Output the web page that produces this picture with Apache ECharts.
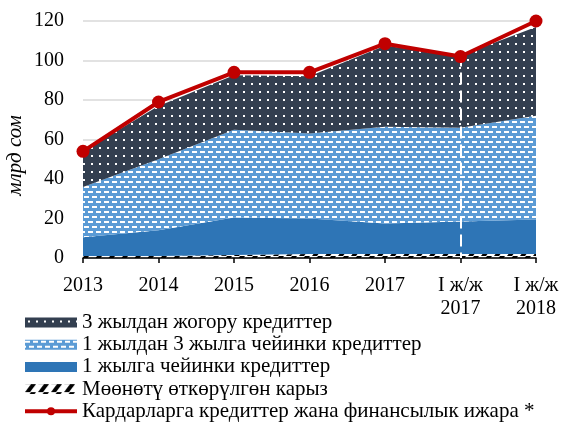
<!DOCTYPE html>
<html>
<head>
<meta charset="utf-8">
<script src="https://cdn.jsdelivr.net/npm/echarts@6/dist/echarts.min.js"></script>
<style>
html, body { margin: 0; padding: 0; background: #fff; }
#chart { width: 561px; height: 424px; }
</style>
</head>
<body>
<div id="chart"></div>
<script>
// категориялар
const categories = ['2013', '2014', '2015', '2016', '2017', 'I ж/ж\n2017', 'I ж/ж\n2018'];
// маалыматтар (млрд сом)
const overdue = [1, 1, 1.5, 2, 2, 2, 2];
const upTo1Year = [9.5, 13, 19, 18, 15.5, 16.5, 17.5];
const from1to3Years = [25.5, 36, 44.5, 43, 49, 47.5, 52.5];
const over3Years = [18, 27, 27.5, 29, 41, 36.5, 45];
const totalLoans = [54, 79, 94, 94, 108.5, 102, 120];
const yTicks = [0, 20, 40, 60, 80, 100, 120];

const names = [
	'3 жылдан жогору кредиттер',
	'1 жылдан 3 жылга чейинки кредиттер',
	'1 жылга чейинки кредиттер',
	'Мөөнөтү өткөрүлгөн карыз',
	'Кардарларга кредиттер жана финансылык ижара *'
];

function makeTile(w, h, bg, draw) {
	const c = document.createElement('canvas');
	c.width = w; c.height = h;
	const ctx = c.getContext('2d');
	if (bg) { ctx.fillStyle = bg; ctx.fillRect(0, 0, w, h); }
	draw(ctx);
	return { image: c, repeat: 'repeat' };
}

// үлгүлөр
const dotPattern = makeTile(8, 8, '#333f50', function (ctx) {
	ctx.fillStyle = '#fff';
	ctx.fillRect(3, 3, 2, 2);
});
const dashPattern = makeTile(8, 10, '#5b9bd5', function (ctx) {
	ctx.fillStyle = '#fff';
	ctx.fillRect(0, 1, 5, 2);
	ctx.fillRect(4, 6, 5, 2);
	ctx.fillRect(-4, 6, 5, 2);
});
const hatchPattern = makeTile(13, 8, null, function (ctx) {
	ctx.fillStyle = '#000';
	ctx.beginPath();
	ctx.moveTo(0, 8); ctx.lineTo(5, 8); ctx.lineTo(11, 0); ctx.lineTo(6, 0);
	ctx.closePath();
	ctx.fill();
});

const font = '"Liberation Serif", "Times New Roman", serif';

const chart = echarts.init(document.getElementById('chart'));

function areaSeries(name, data, fill) {
	return {
		name: name,
		type: 'line',
		stack: 'total',
		data: data,
		showSymbol: false,
		symbol: 'none',
		lineStyle: { width: 0 },
		itemStyle: { color: fill },
		areaStyle: { color: fill, opacity: 1 },
		silent: true
	};
}

const option = {
	animation: false,
	textStyle: { fontFamily: font },
	grid: { left: 83, right: 25, top: 21, bottom: 166, containLabel: false, outerBoundsMode: 'none' },
	legend: {
		orient: 'vertical',
		left: 23,
		top: 312,
		width: 538,
		height: 140,
		padding: 0,
		itemWidth: 52,
		itemHeight: 10,
		itemGap: 1.2,
		textStyle: { fontFamily: font, fontSize: 21, color: '#000', lineHeight: 20 },
		data: [
			{ name: names[0], icon: 'rect', itemStyle: { color: dotPattern, borderWidth: 0 } },
			{ name: names[1], icon: 'rect', itemStyle: { color: dashPattern, borderWidth: 0 } },
			{ name: names[2], icon: 'rect', itemStyle: { color: '#2e75b6', borderWidth: 0 } },
			{ name: names[3], icon: 'rect', itemStyle: { color: hatchPattern, borderWidth: 0 } },
			{ name: names[4], lineStyle: { width: 4, color: '#c00000' } }
		]
	},
	xAxis: {
		type: 'category',
		data: categories,
		boundaryGap: false,
		axisLine: { lineStyle: { color: '#000', width: 1.5 } },
		axisTick: { show: true, length: 5, lineStyle: { color: '#000', width: 1.5 } },
		axisLabel: { color: '#000', fontSize: 20, fontFamily: font, margin: 16, lineHeight: 23, interval: 0 }
	},
	yAxis: {
		type: 'value',
		min: yTicks[0],
		max: yTicks[yTicks.length - 1],
		interval: 20,
		name: 'млрд сом',
		nameLocation: 'middle',
		nameGap: 57,
		nameMoveOverlap: false,
		nameTextStyle: { fontStyle: 'italic', fontSize: 21, color: '#000', fontFamily: font, padding: [0, 32, 0, 0] },
		axisLine: { show: false },
		axisTick: { show: false },
		axisLabel: { color: '#000', fontSize: 20, fontFamily: font, margin: 19 },
		splitLine: { lineStyle: { color: '#d9d9d9', width: 1.5 } }
	},
	series: [
		areaSeries(names[3], overdue, hatchPattern),
		areaSeries(names[2], upTo1Year, '#2e75b6'),
		areaSeries(names[1], from1to3Years, dashPattern),
		Object.assign(areaSeries(names[0], over3Years, dotPattern), {
			markLine: {
				silent: true,
				symbol: 'none',
				label: { show: false },
				lineStyle: { color: '#fff', type: [12, 6], width: 2 },
				data: [[{ coord: [4.55, 103] }, { coord: [4.55, 0] }]]
			}
		}),
		{
			name: names[4],
			type: 'line',
			data: totalLoans,
			symbol: 'circle',
			symbolSize: 13,
			itemStyle: { color: '#c00000' },
			lineStyle: { color: '#c00000', width: 4 },
			z: 5
		}
	]
};

chart.setOption(option);
</script>
</body>
</html>
